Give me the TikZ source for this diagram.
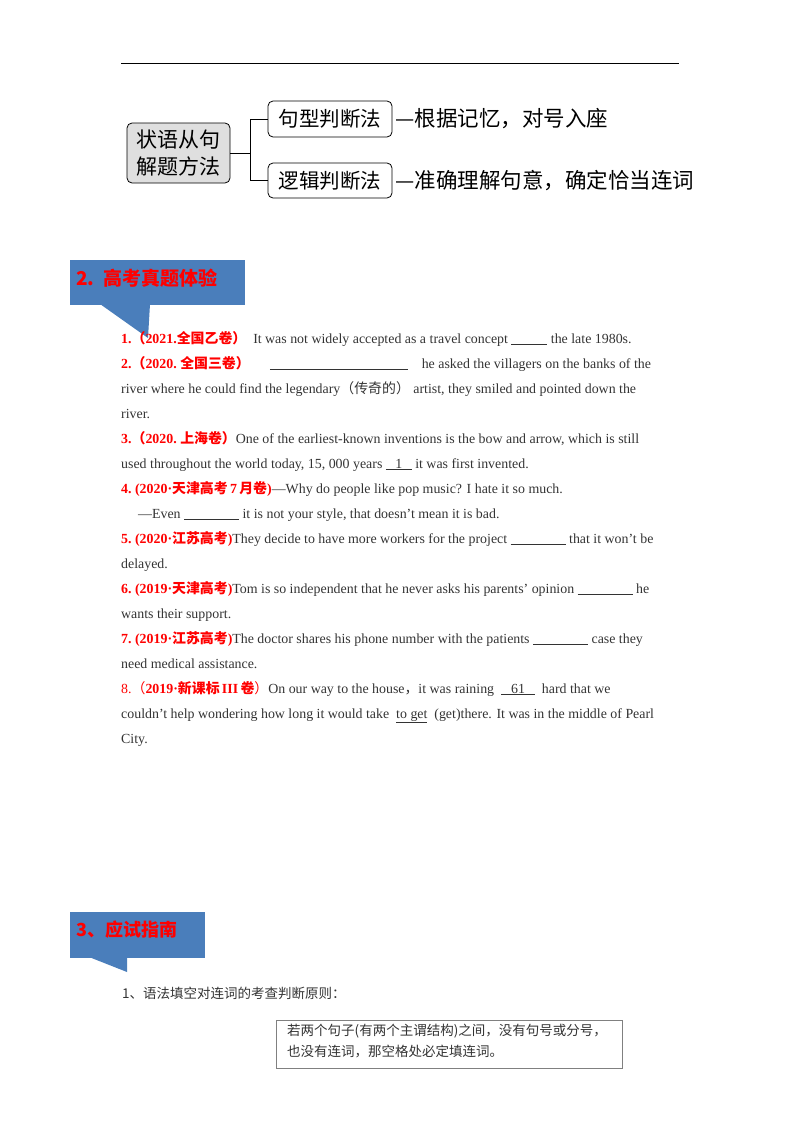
\documentclass[tikz,border=0pt]{standalone}
\usepackage{fontspec}
\setmainfont{Liberation Serif}
\newfontfamily\cj{Noto Sans CJK SC}
\newcommand{\rd}[1]{\textcolor{red}{\bfseries #1}}
\newcommand{\bl}[1]{\underline{\hspace{#1}}}
\definecolor{bannerblue}{HTML}{4A7EBB}
\definecolor{txt}{HTML}{333333}
\begin{document}
\begin{tikzpicture}[x=1pt,y=-1pt,
  ln/.style={anchor=base west,inner sep=0,font=\fontsize{13.9}{15}\selectfont,text=txt},
  mbox/.style={draw,thick,rounded corners=5pt,inner sep=0},
  side/.style={anchor=west,inner sep=0,font=\cj\fontsize{21.5}{22}\selectfont}]
\useasboundingbox (0,0) rectangle (800,1132);
\draw[thick] (121,63) -- (679,63);
% mind map
\node[mbox,fill=gray!25,minimum width=103,minimum height=60,align=center,font=\cj\fontsize{21}{27}\selectfont] (root) at (178.5,153) {状语从句\\解题方法};
\node[mbox,minimum width=124,minimum height=36,font=\cj\fontsize{20.5}{22}\selectfont] (b1) at (330,119) {句型判断法};
\node[mbox,minimum width=124,minimum height=35,font=\cj\fontsize{20.5}{22}\selectfont] (b2) at (330,180.5) {逻辑判断法};
\coordinate (j) at (250,153);
\draw[thick] (root.east) -- (j) |- (b1.west);
\draw[thick] (j) |- (b2.west);
\node[side] (s1) at ([xshift=3pt]b1.east) {—根据记忆，对号入座};
\node[side] (s2) at ([xshift=3pt]b2.east) {—准确理解句意，确定恰当连词};
% banner 2
\fill[bannerblue] (70,260) rectangle (245,305);
\fill[bannerblue] (100,304) -- (148,338) -- (150,304) -- cycle;
\node[anchor=west,inner sep=0,text=red,font=\cj\bfseries\fontsize{19}{20}\selectfont] (h2) at (76,278) {2.\ \ 高考真题体验};
% questions
\node[ln] (q1) at (121,343) {\rd{1.\cj（}\rd{2021.}\rd{\cj 全国乙卷）}\ \ It was not widely accepted as a travel concept \bl{36pt} the late 1980s.};
\node[ln] (q2) at (121,368) {\rd{2.\cj（}\rd{2020.\ }\rd{\cj 全国三卷）}\hspace{20pt}\bl{138pt}\hspace{14pt}he asked the villagers on the banks of the};
\node[ln] (q2b) at (121,393) {river where he could find the legendary{\cj（传奇的）} artist, they smiled and pointed down the};
\node[ln] (q2c) at (121,418) {river.};
\node[ln] (q3) at (121,443) {\rd{3.\cj（}\rd{2020.\ }\rd{\cj 上海卷）}One of the earliest-known inventions is the bow and arrow, which is still};
\node[ln] (q3b) at (121,468) {used throughout the world today, 15, 000 years \underline{\hspace{6pt}\ 1\ \hspace{6pt}} it was first invented.};
\node[ln] (q4) at (121,493) {\rd{4.\ (2020·{\cj 天津高考}\,7\,{\cj 月卷})}—Why do people like pop music? I hate it so much.};
\node[ln] (q4b) at (138,518) {—Even \bl{55pt} it is not your style, that doesn't mean it is bad.};
\node[ln] (q5) at (121,543) {\rd{5.\ (2020·{\cj 江苏高考})}They decide to have more workers for the project \bl{55pt} that it won't be};
\node[ln] (q5b) at (121,568) {delayed.};
\node[ln] (q6) at (121,593) {\rd{6.\ (2019·{\cj 天津高考})}Tom is so independent that he never asks his parents' opinion \bl{55pt} he};
\node[ln] (q6b) at (121,618) {wants their support.};
\node[ln] (q7) at (121,643) {\rd{7.\ (2019·{\cj 江苏高考})}The doctor shares his phone number with the patients \bl{55pt} case they};
\node[ln] (q7b) at (121,668) {need medical assistance.};
\node[ln] (q8) at (121,693) {\textcolor{red}{8.{\cj（}}\rd{2019·{\cj 新课标}\,III\,{\cj 卷}}\textcolor{red}{\cj）}On our way to the house{\cj，}it was raining \ \underline{\hspace{10pt}61\hspace{10pt}}\ \ hard that we};
\node[ln] (q8b) at (121,718) {couldn't help wondering how long it would take \ \underline{to get}\ \ (get)there. It was in the middle of Pearl};
\node[ln] (q8c) at (121,743) {City.};
% banner 3
\fill[bannerblue] (70,912) rectangle (205,958);
\fill[bannerblue] (89,957) -- (127,972) -- (127,957) -- cycle;
\node[anchor=west,inner sep=0,text=red,font=\cj\bfseries\fontsize{18}{20}\selectfont] (h3) at (76,930) {3、应试指南};
\node[anchor=west,inner sep=0,font=\cj\fontsize{13.5}{15}\selectfont,text=txt] (p1) at (122,993) {1、语法填空对连词的考查判断原则：};
\node[draw=gray,thick,minimum width=346,minimum height=48,anchor=north west,inner sep=0] (rule) at (276,1020) {};
\node[anchor=north west,inner sep=0,align=left,font=\cj\fontsize{13.5}{21}\selectfont,text=txt] (rt) at (287,1024) {若两个句子(有两个主谓结构)之间，没有句号或分号，\\也没有连词，那空格处必定填连词。};
\end{tikzpicture}
\end{document}
